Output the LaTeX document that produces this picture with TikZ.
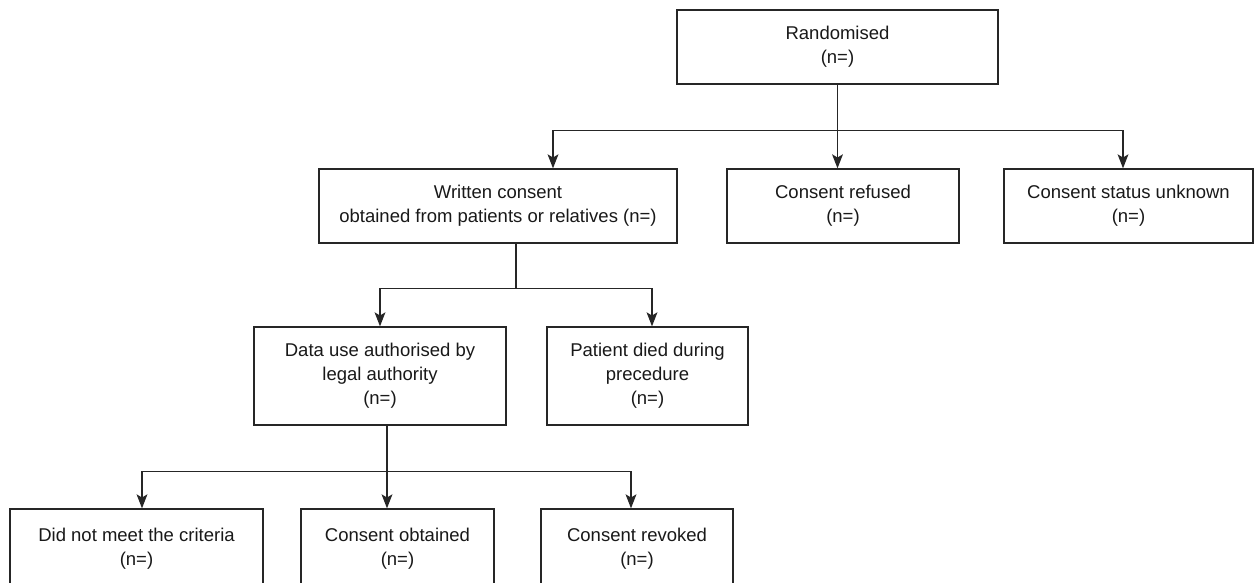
\documentclass[tikz,border=0pt]{standalone}
\usepackage{fontspec}
\setmainfont{Liberation Sans}
\usetikzlibrary{arrows.meta,calc}
\begin{document}
\begin{tikzpicture}[x=0.5pt,y=-0.5pt,
  box/.style={draw=black!85, line width=0.65pt, inner sep=0pt, align=center,
    text=black!90, font=\fontsize{9.25pt}{12pt}\selectfont},
  link/.style={draw=black!85, line width=0.65pt},
  arr/.style={link, -{Stealth[length=7pt,width=5.4pt,inset=1.6pt]}}]
\useasboundingbox (0,0) rectangle (1254,583);
\clip (0,0) rectangle (1254,583);
\fill[white] (0,0) rectangle (1254,583);
% top
\node[box, minimum width=160.5pt, minimum height=37pt] (rand) at (837.5,47) {Randomised\\(n=)};
% second row
\node[box, minimum width=179pt, minimum height=37pt] (wc) at (498,206) {Written consent\\obtained from patients or relatives (n=)};
\node[box, minimum width=116pt, minimum height=37pt] (cr) at (843,206) {Consent refused\\(n=)};
\node[box, minimum width=124.5pt, minimum height=37pt] (cu) at (1128.5,206) {Consent status unknown\\(n=)};
% third row
\node[box, minimum width=126pt, minimum height=49pt] (du) at (380,376) {Data use authorised by\\legal authority\\(n=)};
\node[box, minimum width=100.5pt, minimum height=49pt] (pd) at (647.5,376) {Patient died during\\precedure\\(n=)};
% bottom row (cut by the picture's edge)
\node[box, minimum width=126.5pt, minimum height=50pt] (dn) at (136.5,559) {};
\node[box, minimum width=96.5pt, minimum height=50pt] (co) at (397.5,559) {};
\node[box, minimum width=96pt, minimum height=50pt] (cv) at (637,559) {};
\node[box, draw=none, anchor=north] (dnt) at (136.5,527) {Did not meet the criteria\\(n=)};
\node[box, draw=none, anchor=north] (cot) at (397.5,527) {Consent obtained\\(n=)};
\node[box, draw=none, anchor=north] (cvt) at (637,527) {Consent revoked\\(n=)};
% connectors: level 1
\coordinate (j1) at ($(rand.south)+(0,46)$);
\draw[link] (rand.south) -- (j1);
\draw[arr] (j1) -- (j1 |- cr.north);
\draw[arr] (j1) -| ($(wc.north)+(55,0)$);
\draw[arr] (j1) -| ($(cu.north)+(-5.5,0)$);
% level 2
\coordinate (j2) at ($(wc.south)+(18,45)$);
\draw[link] ($(wc.south)+(18,0)$) -- (j2);
\draw[arr] (j2) -| (du.north);
\draw[arr] (j2) -| ($(pd.north)+(4.5,0)$);
% level 3
\coordinate (j3) at ($(du.south)+(7,46)$);
\draw[link] ($(du.south)+(7,0)$) -- (j3);
\draw[arr] (j3) -- (j3 |- co.north);
\draw[arr] (j3) -| ($(dn.north)+(5.5,0)$);
\draw[arr] (j3) -| ($(cv.north)+(-6,0)$);
\end{tikzpicture}
\end{document}
